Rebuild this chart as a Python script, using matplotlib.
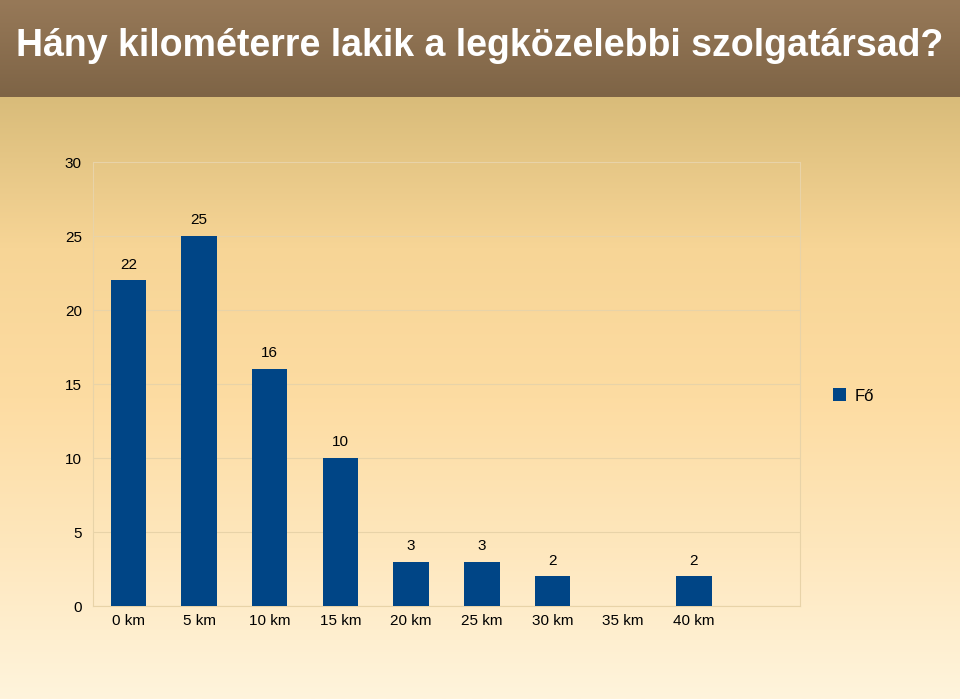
import numpy as np
import matplotlib.pyplot as plt
from matplotlib import font_manager
from matplotlib.colors import LinearSegmentedColormap

categories = ["0 km", "5 km", "10 km", "15 km", "20 km", "25 km", "30 km", "35 km", "40 km", ""]
values = [22, 25, 16, 10, 3, 3, 2, 0, 2, 0]
series_name = "Fő"
title = "Hány kilométerre lakik a legközelebbi szolgatársad?"

names = {f.name for f in font_manager.fontManager.ttflist}
title_font = "Liberation Sans Narrow" if "Liberation Sans Narrow" in names else "Liberation Sans"
plt.rcParams["font.family"] = "Liberation Sans"

W, H = 960, 699
fig = plt.figure(figsize=(W / 100, H / 100), dpi=100)

# background gradients
bg = fig.add_axes([0, 0, 1, 1])
bg.set_axis_off()
top = LinearSegmentedColormap.from_list("t", ["#977958", "#7e6446"])
body = LinearSegmentedColormap.from_list("b", ["#d9bc7a", "#f7d596", "#fddca2", "#fee7bd", "#fff4dc"])
grad = np.linspace(0, 1, 256).reshape(-1, 1)
bg.set_xlim(0, W)
bg.set_ylim(H, 0)
bg.imshow(grad, cmap=top, extent=[0, W, 97, 0], aspect="auto")
bg.imshow(grad, cmap=body, extent=[0, W, H, 97], aspect="auto")
bg.text(480, 46, title, color="white", fontsize=27, fontweight="bold",
        fontfamily=title_font, ha="center", va="center")

ax = fig.add_axes([93 / W, (H - 606) / H, (800 - 93) / W, (606 - 162) / H])
ax.patch.set_alpha(0)
x = np.arange(len(categories))
bars = ax.bar(x, values, width=0.5, color="#004586", label=series_name, zorder=3)
for xi, v in zip(x, values):
    if v > 0:
        ax.text(xi, v + 0.6, str(v), ha="center", va="bottom", fontsize=11)
ax.set_xlim(-0.5, len(categories) - 0.5)
ax.set_ylim(0, 30)
ax.set_yticks(range(0, 31, 5))
ax.set_xticks(x)
ax.set_xticklabels(categories, fontsize=11)
ax.tick_params(axis="y", labelsize=11, length=0, pad=8)
ax.tick_params(axis="x", length=0, pad=6)
ax.grid(axis="y", color="#e8d3a8", linewidth=0.8, zorder=0)
for s in ["top", "right", "left"]:
    ax.spines[s].set_color("#e8d3a8")
ax.spines["bottom"].set_color("#e8d3a8")

fig.legend(handles=[bars], labels=[series_name], loc="center left",
           bbox_to_anchor=(818 / W, 1 - 396 / H), frameon=False, fontsize=12,
           handlelength=0.8, handleheight=0.8, handletextpad=0.5)

fig.savefig("out.png", dpi=100)
